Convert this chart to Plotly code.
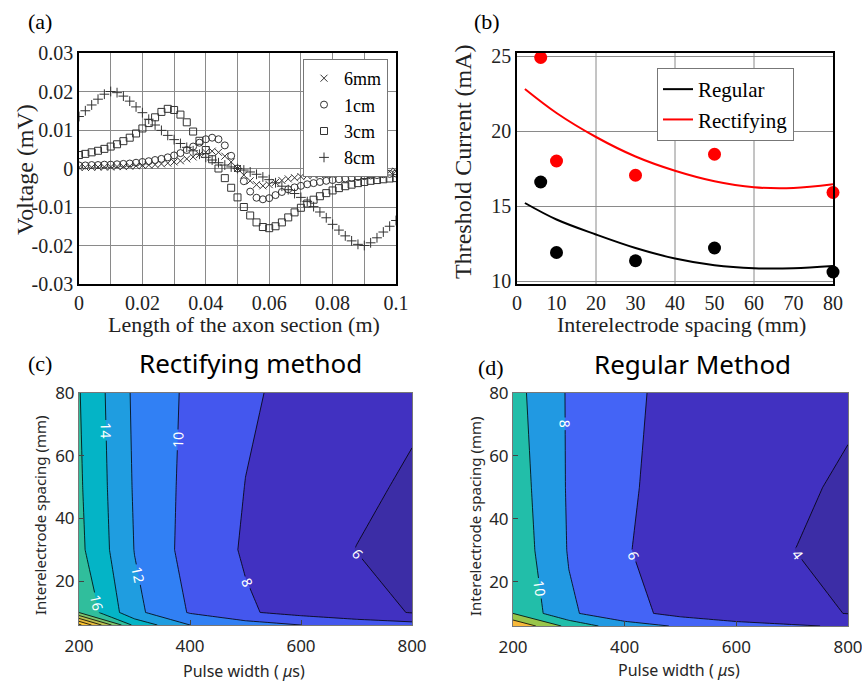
import plotly.graph_objects as go
import numpy as np

#########################################################################
# data

# (a) voltage along the axon section, sampled every 2 mm
axon_x = np.round(np.arange(0, 0.1001, 0.002), 3)

v_6mm = [0.0003, 0.0003, 0.0003, 0.0004, 0.0004, 0.0004, 0.0005, 0.0005, 0.0006, 0.0007,
         0.0008, 0.0009, 0.0010, 0.0012, 0.0014, 0.0017, 0.0020, 0.0025, 0.0030, 0.0036,
         0.0042, 0.0045, 0.0042, 0.0032, 0.0017, 0.0000,
         -0.0017, -0.0032, -0.0042, -0.0045, -0.0042, -0.0036, -0.0031, -0.0027, -0.0024, -0.0021,
         -0.0019, -0.0017, -0.0016, -0.0015, -0.0014, -0.0013, -0.0012, -0.0011, -0.0011, -0.0010,
         -0.0009, -0.0009, -0.0008, -0.0008, -0.0007]

v_1cm = [0.0008, 0.0008, 0.0009, 0.0009, 0.0010, 0.0010, 0.0011, 0.0012, 0.0013, 0.0015,
         0.0017, 0.0019, 0.0022, 0.0025, 0.0029, 0.0034, 0.0040, 0.0048, 0.0057, 0.0067,
         0.0076, 0.0080, 0.0076, 0.0060, 0.0033, 0.0000,
         -0.0033, -0.0060, -0.0076, -0.0080, -0.0077, -0.0069, -0.0061, -0.0054, -0.0049, -0.0045,
         -0.0041, -0.0038, -0.0035, -0.0032, -0.0030, -0.0028, -0.0026, -0.0024, -0.0022, -0.0020,
         -0.0018, -0.0017, -0.0015, -0.0014, -0.0013]

v_3cm = [0.0035, 0.0038, 0.0042, 0.0046, 0.0051, 0.0057, 0.0063, 0.0071, 0.0080, 0.0091,
         0.0104, 0.0118, 0.0133, 0.0147, 0.0155, 0.0152, 0.0140, 0.0120, 0.0096, 0.0072,
         0.0048, 0.0024, 0.0000, -0.0025, -0.0050, -0.0075, -0.0100, -0.0122, -0.0140, -0.0152,
         -0.0155, -0.0150, -0.0140, -0.0127, -0.0114, -0.0102, -0.0091, -0.0081, -0.0072, -0.0064,
         -0.0057, -0.0051, -0.0046, -0.0042, -0.0038, -0.0035, -0.0032, -0.0030, -0.0028, -0.0026,
         -0.0025]

v_8cm = [0.0135, 0.0150, 0.0165, 0.0180, 0.0193, 0.0200, 0.0197, 0.0188, 0.0175, 0.0160,
         0.0145, 0.0128, 0.0113, 0.0099, 0.0086, 0.0075, 0.0065, 0.0055, 0.0046, 0.0037,
         0.0029, 0.0022, 0.0015, 0.0009, 0.0004, 0.0000,
         -0.0004, -0.0009, -0.0015, -0.0022, -0.0029, -0.0037, -0.0046, -0.0055, -0.0065, -0.0075,
         -0.0086, -0.0099, -0.0113, -0.0128, -0.0145, -0.0160, -0.0175, -0.0188, -0.0197, -0.0200,
         -0.0193, -0.0180, -0.0165, -0.0150, -0.0135]

a_xticks = [0, 0.01, 0.02, 0.03, 0.04, 0.05, 0.06, 0.07, 0.08, 0.09, 0.1]
a_xtext = ["0", "", "0.02", "", "0.04", "", "0.06", "", "0.08", "", "0.1"]
a_yticks = [-0.03, -0.02, -0.01, 0, 0.01, 0.02, 0.03]
a_ytext = ["-0.03", "-0.02", "-0.01", "0", "0.01", "0.02", "0.03"]

# (b) threshold current vs spacing
spacing = [6, 10, 30, 50, 80]
rect_th = [24.9, 18.0, 17.05, 18.45, 15.9]
reg_th = [16.6, 11.9, 11.35, 12.2, 10.6]
fit_x = [2, 10, 20, 30, 40, 50, 60, 70, 80]
rect_fit = [22.8, 21.2, 19.6, 18.3, 17.35, 16.65, 16.25, 16.2, 16.45]
reg_fit = [15.2, 14.1, 13.1, 12.2, 11.5, 11.05, 10.85, 10.85, 11.0]
b_grid_x = [20, 40, 60]

# (c), (d) threshold maps
pulse_width = [200, 300, 400, 500, 600, 700, 800]
spacing_grid = [6, 10, 30, 50, 80]
rect_z = [
    [26.5, 15.4, 12.0, 10.9, 10.0, 9.0, 8.7],
    [17.95, 12.54, 9.84, 8.25, 7.3, 6.8, 5.9],
    [16.5, 11.95, 9.25, 7.8, 6.9, 5.97, 5.5],
    [16.3, 11.8, 9.4, 7.97, 7.1, 6.36, 5.75],
    [16.1, 11.65, 9.6, 8.25, 7.5, 6.9, 6.35],
]
reg_z = [
    [15.8, 11.4, 8.76, 7.8, 6.6, 6.2, 5.8],
    [12.0, 8.3, 6.72, 5.33, 4.9, 4.5, 3.95],
    [11.37, 7.87, 6.12, 5.2, 4.6, 4.02, 3.6],
    [11.08, 7.8, 6.25, 5.3, 4.75, 4.3, 3.75],
    [10.7, 7.8, 6.4, 5.4, 4.9, 4.6, 4.3],
]

# band colours (parula-like), lowest band first
rect_colors = ["#3c2da6", "#4131c1", "#4457ee", "#3180f4", "#1f9de0", "#04b4c6",
               "#30be9c", "#7cc26b", "#b9bd4f", "#e4b93c", "#fcc32f", "#f6e320"]
reg_colors = ["#3c2da6", "#4131c1", "#4464f6", "#2199e2", "#22bea9", "#98c54a",
              "#f7b93b", "#f6e320"]


def step_scale(colors):
    n = len(colors) - 1
    scale = []
    for j, c in enumerate(colors):
        scale.append([max(0, (j - 0.5) / n), c])
        scale.append([min(1, (j + 0.5) / n), c])
    return scale


SERIF = "Liberation Serif"
SANS = "Noto Sans"

#########################################################################
# figure

fig = go.Figure()

mk = dict(size=7, color="#333333", line=dict(width=1, color="#333333"))
for name, vals, sym in [("6mm", v_6mm, "x-thin-open"), ("1cm", v_1cm, "circle-open"),
                        ("3cm", v_3cm, "square-open"), ("8cm", v_8cm, "cross-thin-open")]:
    fig.add_trace(go.Scatter(x=axon_x, y=vals, mode="markers", name=name,
                             marker=dict(mk, symbol=sym), legend="legend",
                             xaxis="x", yaxis="y"))

fig.add_trace(go.Scatter(x=fit_x, y=reg_fit, mode="lines", name="Regular",
                         line=dict(color="black", width=2, shape="spline"),
                         legend="legend2", xaxis="x2", yaxis="y2"))
fig.add_trace(go.Scatter(x=fit_x, y=rect_fit, mode="lines", name="Rectifying",
                         line=dict(color="#ff0000", width=2, shape="spline"),
                         legend="legend2", xaxis="x2", yaxis="y2"))
fig.add_trace(go.Scatter(x=spacing, y=reg_th, mode="markers", showlegend=False,
                         marker=dict(size=13, color="black"), cliponaxis=False,
                         xaxis="x2", yaxis="y2"))
fig.add_trace(go.Scatter(x=spacing, y=rect_th, mode="markers", showlegend=False,
                         marker=dict(size=13, color="#ff0000"), cliponaxis=False,
                         xaxis="x2", yaxis="y2"))

label_font = dict(family=SANS, size=14, color="white")
fig.add_trace(go.Contour(x=pulse_width, y=spacing_grid, z=rect_z, xaxis="x3", yaxis="y3",
                         autocontour=False,
                         contours=dict(start=6, end=26, size=2, coloring="fill",
                                       showlabels=True, labelfont=label_font),
                         colorscale=step_scale(rect_colors), showscale=False,
                         line=dict(color="black", width=0.8, smoothing=0),
                         showlegend=False, hoverinfo="skip"))
fig.add_trace(go.Contour(x=pulse_width, y=spacing_grid, z=reg_z, xaxis="x4", yaxis="y4",
                         autocontour=False,
                         contours=dict(start=4, end=16, size=2, coloring="fill",
                                       showlabels=True, labelfont=label_font),
                         colorscale=step_scale(reg_colors), showscale=False,
                         line=dict(color="black", width=0.8, smoothing=0),
                         showlegend=False, hoverinfo="skip"))

W, H = 862, 682


def px_x(p):
    return p / W


def px_y(p):
    return 1 - p / H


serif_ax = dict(showline=True, mirror=True, linecolor="black", linewidth=1.5,
                showgrid=True, gridcolor="#8a8a8a", gridwidth=1, zeroline=False,
                ticks="", automargin=False, ticklabeloverflow="allow",
                tickfont=dict(family=SERIF, size=20, color="#222"))
sans_ax = dict(showline=True, mirror=True, linecolor="#777", linewidth=1,
               showgrid=False, zeroline=False, ticks="inside", ticklen=5,
               tickcolor="#444", automargin=False, ticklabeloverflow="allow",
               tickfont=dict(family=SANS, size=17, color="#262626"))

fig.update_layout(
    width=W, height=H, margin=dict(l=0, r=0, t=0, b=0),
    paper_bgcolor="white", plot_bgcolor="white",
    xaxis=dict(serif_ax, domain=[px_x(79), px_x(396)], anchor="y", range=[0, 0.1],
               tickmode="array", tickvals=a_xticks, ticktext=a_xtext),
    yaxis=dict(serif_ax, domain=[px_y(284), px_y(53)], anchor="x", range=[-0.03, 0.03],
               tickmode="array", tickvals=a_yticks, ticktext=a_ytext),
    xaxis2=dict(serif_ax, domain=[px_x(517), px_x(833)], anchor="y2", range=[0, 80],
                tickmode="array", tickvals=[0, 10, 20, 30, 40, 50, 60, 70, 80], showgrid=False),
    yaxis2=dict(serif_ax, domain=[px_y(284), px_y(53)], anchor="x2", range=[9.8, 25.2],
                tickmode="array", tickvals=[10, 15, 20, 25]),
    xaxis3=dict(sans_ax, domain=[px_x(79), px_x(412)], anchor="y3", range=[200, 800],
                tickvals=[200, 400, 600, 800], ticklabelstandoff=6),
    yaxis3=dict(sans_ax, domain=[px_y(625), px_y(393)], anchor="x3", range=[6, 80],
                tickvals=[20, 40, 60, 80]),
    xaxis4=dict(sans_ax, domain=[px_x(513), px_x(848)], anchor="y4", range=[200, 800],
                tickvals=[200, 400, 600, 800], ticklabelstandoff=6),
    yaxis4=dict(sans_ax, domain=[px_y(626), px_y(393)], anchor="x4", range=[6, 80],
                tickvals=[20, 40, 60, 80]),
    legend=dict(x=px_x(303), y=px_y(59), xanchor="left", yanchor="top",
                font=dict(family=SERIF, size=18, color="black"),
                bgcolor="white", bordercolor="#777", borderwidth=1, tracegroupgap=0),
    legend2=dict(x=px_x(657), y=px_y(68), xanchor="left", yanchor="top",
                 font=dict(family=SERIF, size=21, color="black"),
                 bgcolor="white", bordercolor="#777", borderwidth=1, tracegroupgap=0),
)

for g in b_grid_x:
    fig.add_shape(type="line", xref="x2", yref="y2 domain", x0=g, x1=g, y0=0, y1=1,
                  line=dict(color="#8a8a8a", width=1), layer="below")

texts = [
    ("(a)", 40, 22, SERIF, 22, 0, "black"),
    ("(b)", 487, 22, SERIF, 22, 0, "black"),
    ("(c)", 40, 363, SERIF, 22, 0, "black"),
    ("(d)", 491, 367, SERIF, 22, 0, "black"),
    ("Voltage (mV)", 25, 170, SERIF, 24, -90, "#222"),
    ("Length of the axon section (m)", 244, 324, SERIF, 22, 0, "#222"),
    ("Threshold Current (mA)", 463, 162, SERIF, 24, -90, "#222"),
    ("Interelectrode spacing (mm)", 681, 324, SERIF, 22, 0, "#222"),
    ("Rectifying method", 250, 363, SANS, 26, 0, "black"),
    ("Regular Method", 692, 364, SANS, 26, 0, "black"),
    ("Interelectrode spacing (mm)", 40, 516, SANS, 15, -90, "#262626"),
    ("Interelectrode spacing (mm)", 475, 517, SANS, 15, -90, "#262626"),
    ("Pulse width ( <i>μ</i>s)", 244, 671, SANS, 16, 0, "#262626"),
    ("Pulse width ( <i>μ</i>s)", 679, 670, SANS, 16, 0, "#262626"),
]
for t, x, y, fam, size, ang, col in texts:
    fig.add_annotation(text=t, x=px_x(x), y=px_y(y), xref="paper", yref="paper",
                       showarrow=False, textangle=ang, xanchor="center", yanchor="middle",
                       font=dict(family=fam, size=size, color=col))

# the page body has a default 8px margin; drop it so the figure fills the window
fig.write_html("out.html", config={"displayModeBar": False},
               post_script="document.body.style.margin='0px';")
